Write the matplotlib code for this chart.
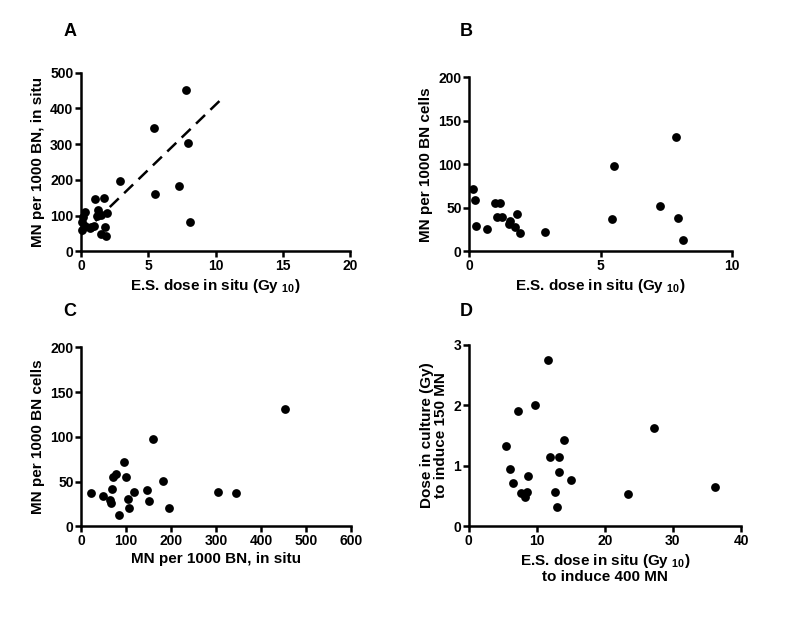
import numpy as np
import matplotlib.pyplot as plt

plt.rcParams['font.family'] = ['Liberation Sans', 'DejaVu Sans']
plt.rcParams['font.weight'] = 'bold'
plt.rcParams['mathtext.fontset'] = 'custom'
plt.rcParams['mathtext.rm'] = 'Liberation Sans:bold'
plt.rcParams['mathtext.bf'] = 'Liberation Sans:bold'

# Panel A: E.S. dose in situ vs MN per 1000 BN in situ
a_x = [7.84, 5.43, 7.94, 2.88, 7.27, 5.53, 8.11, 1.07, 1.74, 1.24, 1.94, 1.19, 1.5,
       1.81, 1.51, 1.89, 0.32, 0.15, 0.07, 0.65, 0.97, 0.77, 0.27, 0.1]
a_y = [451, 344, 303, 196, 183, 160, 83, 146, 149, 116, 106, 100, 103,
       67, 49, 44, 111, 97, 83, 64, 72, 69, 72, 60]
fit_slope = 36.4
fit_intercept = 46
fit_xmax = 10.4

# Panel B: E.S. dose in situ vs MN per 1000 BN cells
b_x = [0.15, 0.23, 0.27, 0.66, 0.97, 1.17, 1.04, 1.23, 1.54, 1.52, 1.73, 1.82, 1.92,
       2.88, 5.43, 5.51, 7.27, 7.87, 7.94, 8.13]
b_y = [72, 59, 29, 26, 56, 55, 40, 39, 35, 31, 28, 43, 21,
       22, 37, 98, 52, 131, 38, 13]

# Panel C: MN per 1000 BN in situ vs MN per 1000 BN cells
c_x = [22, 49, 68, 71, 78, 65, 67, 83, 96, 99, 104, 107, 117, 146, 150, 160, 183,
       196, 304, 344, 453]
c_y = [37, 34, 42, 55, 58, 29, 26, 13, 72, 55, 30, 20, 38, 40, 28, 98, 51,
       21, 38, 37, 131]

# Panel D: E.S. dose to induce 400 MN vs dose in culture to induce 150 MN
d_x = [5.48, 6.12, 6.56, 7.2, 7.75, 8.3, 8.6, 8.66, 9.69, 11.6, 11.99, 12.73, 13.02,
       13.26, 13.26, 14.0, 14.98, 23.45, 27.2, 36.2]
d_y = [1.32, 0.94, 0.72, 1.9, 0.55, 0.49, 0.56, 0.83, 2.01, 2.75, 1.14, 0.56, 0.32,
       1.14, 0.89, 1.42, 0.77, 0.54, 1.63, 0.65]

W, H = 800, 621
fig = plt.figure(figsize=(W / 100, H / 100), dpi=100)


def make_ax(x0, x1, y_top, y_bot):
    return fig.add_axes([x0 / W, 1 - y_bot / H, (x1 - x0) / W, (y_bot - y_top) / H])


def style(ax, xlim, ylim, xticks, yticks):
    ax.set_xlim(*xlim)
    ax.set_ylim(*ylim)
    ax.set_xticks(xticks)
    ax.set_yticks(yticks)
    for s in ['top', 'right']:
        ax.spines[s].set_visible(False)
    for s in ['left', 'bottom']:
        ax.spines[s].set_linewidth(1.8)
    ax.tick_params(width=1.8, length=4, labelsize=10, pad=1.5)
    for lab in ax.get_xticklabels() + ax.get_yticklabels():
        lab.set_fontweight('bold')


lbl = dict(fontsize=11, fontweight='bold')
dot = dict(s=40, color='black', clip_on=False, zorder=3, linewidths=0)
es_label = r'E.S. dose in situ (Gy $_{\mathbf{10}}$)'

# A
ax = make_ax(81, 350, 72.7, 251.3)
ax.scatter(a_x, a_y, **dot)
fx = np.array([0, fit_xmax])
ax.plot(fx, fit_intercept + fit_slope * fx, 'k--', lw=1.8, dashes=(5, 3))
style(ax, (0, 20), (0, 500), [0, 5, 10, 15, 20], [0, 100, 200, 300, 400, 500])
ax.set_xlabel(es_label, labelpad=3, **lbl)
ax.set_ylabel('MN per 1000 BN, in situ', labelpad=4, **lbl)

# B
ax = make_ax(469.3, 731.7, 77.3, 251.3)
ax.scatter(b_x, b_y, **dot)
style(ax, (0, 10), (0, 200), [0, 5, 10], [0, 50, 100, 150, 200])
ax.set_xlabel(es_label, labelpad=3, **lbl)
ax.set_ylabel('MN per 1000 BN cells', labelpad=4, **lbl)

# C
ax = make_ax(81.3, 350.7, 347.3, 526.3)
ax.scatter(c_x, c_y, **dot)
style(ax, (0, 600), (0, 200), [0, 100, 200, 300, 400, 500, 600], [0, 50, 100, 150, 200])
ax.set_xlabel('MN per 1000 BN, in situ', labelpad=3, **lbl)
ax.set_ylabel('MN per 1000 BN cells', labelpad=4, **lbl)

# D
ax = make_ax(468.7, 741, 344.7, 526.3)
ax.scatter(d_x, d_y, **dot)
style(ax, (0, 40), (0, 3), [0, 10, 20, 30, 40], [0, 1, 2, 3])
ax.set_xlabel(es_label + '\nto induce 400 MN', labelpad=3, linespacing=1.0, **lbl)
ax.set_ylabel('Dose in culture (Gy)\nto induce 150 MN', labelpad=4, linespacing=1.0, **lbl)

for letter, x, y in [('A', 70, 32), ('B', 466, 32), ('C', 70, 312), ('D', 466, 312)]:
    fig.text(x / W, 1 - y / H, letter, fontsize=13, fontweight='bold', ha='center', va='center')

fig.savefig('out.png', dpi=100)
